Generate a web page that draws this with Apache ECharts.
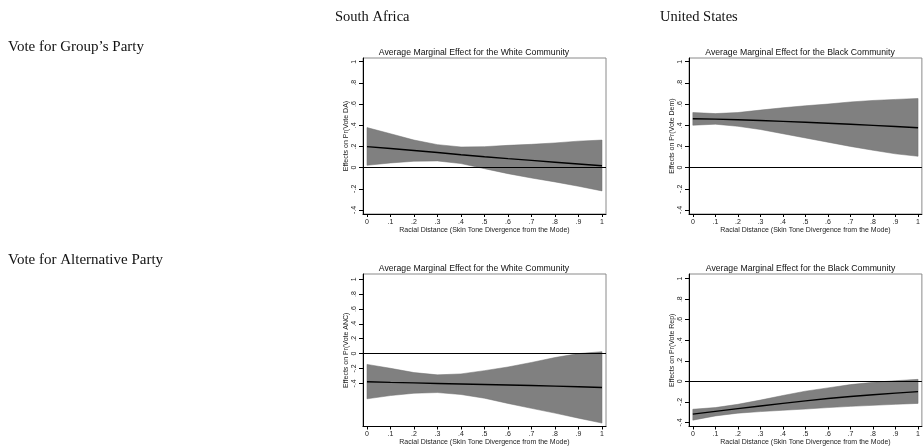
<!DOCTYPE html>
<html><head><meta charset="utf-8">
<script src="https://cdn.jsdelivr.net/npm/echarts@6/dist/echarts.min.js"></script>
<style>html,body{margin:0;padding:0;background:#fff}#c{width:923px;height:447px}</style>
</head><body><div id="c"></div>
<script>
// Shared x values (Racial Distance)
const xVals = [0, 0.1, 0.2, 0.3, 0.4, 0.5, 0.6, 0.7, 0.8, 0.9, 1];
const xTicks = [0, 0.1, 0.2, 0.3, 0.4, 0.5, 0.6, 0.7, 0.8, 0.9, 1];
const yTicks = [-0.4, -0.2, 0, 0.2, 0.4, 0.6, 0.8, 1];

// South Africa – Vote DA (White community)
const saDA_est   = [0.198, 0.180, 0.162, 0.143, 0.122, 0.103, 0.085, 0.068, 0.051, 0.034, 0.017];
const saDA_upper = [0.378, 0.320, 0.260, 0.217, 0.195, 0.198, 0.210, 0.220, 0.233, 0.250, 0.260];
const saDA_lower = [0.022, 0.044, 0.060, 0.063, 0.038, -0.010, -0.057, -0.098, -0.135, -0.176, -0.220];

// United States – Vote Dem (Black community)
const usDem_est   = [0.462, 0.458, 0.452, 0.445, 0.437, 0.428, 0.419, 0.410, 0.399, 0.388, 0.377];
const usDem_upper = [0.520, 0.510, 0.520, 0.543, 0.565, 0.584, 0.600, 0.620, 0.634, 0.644, 0.653];
const usDem_lower = [0.400, 0.410, 0.390, 0.360, 0.320, 0.280, 0.240, 0.200, 0.164, 0.130, 0.107];

// South Africa – Vote ANC (White community)
const saANC_est   = [-0.379, -0.387, -0.394, -0.401, -0.408, -0.415, -0.422, -0.429, -0.437, -0.445, -0.455];
const saANC_upper = [-0.145, -0.198, -0.255, -0.286, -0.273, -0.229, -0.180, -0.119, -0.053, 0.000, 0.026];
const saANC_lower = [-0.608, -0.564, -0.533, -0.524, -0.550, -0.600, -0.670, -0.736, -0.800, -0.868, -0.934];

// United States – Vote Rep (Black community)
const usRep_est   = [-0.320, -0.293, -0.266, -0.240, -0.215, -0.190, -0.167, -0.148, -0.131, -0.115, -0.100];
const usRep_upper = [-0.272, -0.256, -0.224, -0.183, -0.138, -0.096, -0.064, -0.032, -0.010, 0.006, 0.019];
const usRep_lower = [-0.378, -0.337, -0.310, -0.295, -0.282, -0.270, -0.256, -0.244, -0.234, -0.224, -0.215];

const panelTitles = ['Average Marginal Effect for the White Community', 'Average Marginal Effect for the Black Community',
                     'Average Marginal Effect for the White Community', 'Average Marginal Effect for the Black Community'];
const yNames = ['Effects on Pr(Vote DA)', 'Effects on Pr(Vote Dem)', 'Effects on Pr(Vote ANC)', 'Effects on Pr(Vote Rep)'];
const xName = 'Racial Distance (Skin Tone Divergence from the Mode)';
const rowLabels = ['Vote for Group\u2019s Party', 'Vote for Alternative Party'];
const colLabels = ['South Africa', 'United States'];

const panels = [
  {est: saDA_est, up: saDA_upper, lo: saDA_lower},
  {est: usDem_est, up: usDem_upper, lo: usDem_lower},
  {est: saANC_est, up: saANC_upper, lo: saANC_lower},
  {est: usRep_est, up: usRep_upper, lo: usRep_lower}
];

// layout
const grids = [
  {left: 363, top: 58, width: 243, height: 156},
  {left: 689, top: 58, width: 243, height: 156},
  {left: 363, top: 274, width: 243, height: 155},
  {left: 689, top: 274, width: 243, height: 155}
];
const yRanges = [[-0.438, 1.035], [-0.438, 1.035], [-0.98, 1.07], [-0.44, 1.045]];
const titlePos = [[474, 53], [800, 53], [474, 268.5], [800.5, 268.5]];

const FONT = 'Liberation Sans, Arial, Helvetica, sans-serif';
const SERIF = 'Liberation Serif, Times New Roman, serif';

function fmt(v) {
  const r = Math.round(v * 10) / 10;
  if (r === 0) return '0';
  if (r === 1) return '1';
  let s = Math.abs(r).toFixed(1).replace(/^0/, '');
  return (r < 0 ? '-' : '') + s;
}

const option = {
  animation: false,
  backgroundColor: '#fff',
  grid: grids.map(g => Object.assign({show: true, borderColor: '#8a8a8a', borderWidth: 1, backgroundColor: 'transparent'}, g)),
  xAxis: grids.map((g, i) => ({
    type: 'value', gridIndex: i, min: -0.017, max: 1.017,
    name: xName, nameLocation: 'middle', nameGap: 12.5,
    nameTextStyle: {fontFamily: FONT, fontSize: 7, color: '#222'},
    axisLine: {show: true, onZero: false, lineStyle: {color: '#000', width: 1}},
    axisTick: {show: true, length: 3, customValues: xTicks, lineStyle: {color: '#000'}},
    axisLabel: {customValues: xTicks, formatter: fmt, fontFamily: FONT, fontSize: 7, color: '#222', margin: 4.5},
    splitLine: {show: false}
  })),
  yAxis: grids.map((g, i) => ({
    type: 'value', gridIndex: i, min: yRanges[i][0], max: yRanges[i][1],
    name: yNames[i], nameLocation: 'middle', nameGap: 13, nameRotate: 90,
    nameTextStyle: {fontFamily: FONT, fontSize: 7, color: '#222'},
    axisLine: {show: true, onZero: false, lineStyle: {color: '#000', width: 1}},
    axisTick: {show: true, length: 4, customValues: yTicks, lineStyle: {color: '#000'}},
    axisLabel: {customValues: yTicks, formatter: fmt, rotate: 90, fontFamily: FONT, fontSize: 7, color: '#222', margin: 5},
    splitLine: {show: false}
  })),
  graphic: [
    {type: 'text', left: 8, top: 48 - 8, style: {text: rowLabels[0], font: '15px ' + SERIF, fill: '#111'}},
    {type: 'text', left: 8, top: 260.7 - 8, style: {text: rowLabels[1], font: '15px ' + SERIF, fill: '#111'}},
    {type: 'text', left: 335, top: 18 - 8, style: {text: colLabels[0], font: '14.5px ' + SERIF, fill: '#111'}},
    {type: 'text', left: 660, top: 18 - 8, style: {text: colLabels[1], font: '14.5px ' + SERIF, fill: '#111'}}
  ].concat(titlePos.map((p, i) => ({
    type: 'text', x: p[0], y: p[1],
    style: {text: panelTitles[i], font: '8.7px ' + FONT, fill: '#111', align: 'center', verticalAlign: 'middle'}
  }))),
  series: []
};

panels.forEach((p, i) => {
  const bandData = xVals.map((x, k) => [x, p.lo[k], p.up[k]]);
  option.series.push({
    type: 'custom', xAxisIndex: i, yAxisIndex: i, silent: true, z: 2,
    data: bandData,
    encode: {x: 0, y: [1, 2]},
    renderItem: function (params, api) {
      if (params.dataIndex !== 0) return null;
      const upperPts = bandData.map(d => api.coord([d[0], d[2]]));
      const lowerPts = bandData.slice().reverse().map(d => api.coord([d[0], d[1]]));
      return {
        type: 'polygon',
        shape: {points: upperPts.concat(lowerPts)},
        style: {fill: '#808080', stroke: '#6e6e6e', lineWidth: 0.5}
      };
    }
  });
  option.series.push({
    type: 'line', xAxisIndex: i, yAxisIndex: i,
    data: p.est.map((v, k) => [xVals[k], v]), symbol: 'none', z: 4,
    lineStyle: {color: '#000', width: 1.4},
    markLine: {silent: true, symbol: 'none', label: {show: false},
      lineStyle: {color: '#000', width: 1, type: 'solid'}, data: [{yAxis: 0}]}
  });
});

const chart = echarts.init(document.getElementById('c'), null, {renderer: 'canvas'});
chart.setOption(option);
</script>
</body></html>
